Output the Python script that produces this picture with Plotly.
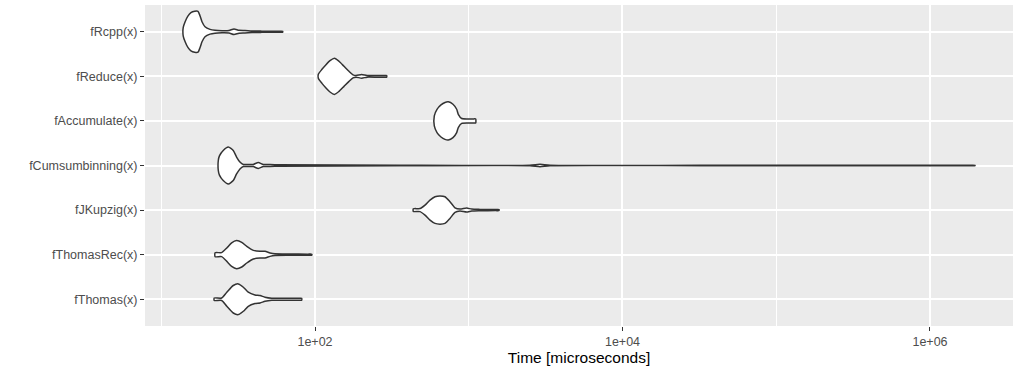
import plotly.graph_objects as go

# Category order: bottom (1) to top (7)
categories = ["fThomas(x)", "fThomasRec(x)", "fJKupzig(x)", "fCumsumbinning(x)",
              "fAccumulate(x)", "fReduce(x)", "fRcpp(x)"]

# Violin outlines: time [microseconds] and relative half-width
rcpp_t = [13.9, 14.3, 14.9, 15.6, 16.5, 17.34, 17.86, 18.41, 19.26, 20.76, 22.37, 24.85,
          27.59, 29.73, 32.04, 35.05, 38.93, 45.21, 58.0, 61.65]
rcpp_w = [0.22, 0.50, 0.78, 0.95, 1.02, 1.02, 0.80, 0.50, 0.25, 0.12, 0.07, 0.05,
          0.06, 0.14, 0.07, 0.06, 0.04, 0.03, 0.02, 0.02]

reduce_t = [105.1, 111.0, 117.9, 125.2, 133.9, 143.2, 154.4, 166.4, 176.7, 184.8, 201.3,
            217.9, 256.9, 285.0, 292.6]
reduce_w = [0.10, 0.35, 0.58, 0.78, 0.90, 0.75, 0.50, 0.25, 0.075, 0.04, 0.09,
            0.04, 0.045, 0.04, 0.04]

accumulate_t = [597, 621.7, 659.9, 700.6, 736.2, 789.8, 834.9, 855.1, 899.9, 988.8, 1080, 1109.7]
accumulate_w = [0.25, 0.58, 0.80, 0.92, 0.95, 0.83, 0.58, 0.33, 0.12, 0.10, 0.10, 0.10]

cumsum_t = [23.5, 23.9, 25.3, 27.3, 29.4, 30.9, 32.5, 34.2, 36.7, 39.7, 42.8, 46.1, 51.0,
            57.4, 357, 2502, 2907, 3378, 31918, 1000000, 1800000, 1962000]
cumsum_w = [0.25, 0.48, 0.75, 0.92, 0.75, 0.42, 0.17, 0.05, 0.05, 0.055, 0.15, 0.05, 0.05,
            0.04, 0.012, 0.012, 0.06, 0.012, 0.01, 0.01, 0.01, 0.01]

jkupzig_t = [436, 481.9, 519.4, 559.8, 603.4, 650.2, 700.6, 755.1, 813.7, 877.3, 969.7,
             1045, 1184, 1500, 1573]
jkupzig_w = [0.065, 0.075, 0.25, 0.50, 0.665, 0.70, 0.665, 0.415, 0.115, 0.05, 0.10,
             0.05, 0.035, 0.025, 0.025]

thomasrec_t = [22.4, 24.7, 26.7, 28.7, 30.9, 33.4, 36.0, 39.7, 43.9, 47.3, 51.0, 54.9,
               68.8, 90.0, 95.2]
thomasrec_w = [0.10, 0.10, 0.335, 0.585, 0.70, 0.615, 0.415, 0.215, 0.165, 0.165, 0.085,
               0.04, 0.03, 0.025, 0.025]

thomas_t = [22.1, 24.7, 26.7, 29.4, 31.7, 34.2, 36.8, 40.7, 43.9, 47.3, 52.3, 63.8, 78.0, 81.9]
thomas_w = [0.06, 0.06, 0.35, 0.685, 0.765, 0.60, 0.35, 0.215, 0.185, 0.10, 0.05, 0.045,
            0.045, 0.045]

profiles = [
    (thomas_t, thomas_w),
    (thomasrec_t, thomasrec_w),
    (jkupzig_t, jkupzig_w),
    (cumsum_t, cumsum_w),
    (accumulate_t, accumulate_w),
    (reduce_t, reduce_w),
    (rcpp_t, rcpp_w),
]

x_tickvals = [1e2, 1e4, 1e6]
x_ticktext = ["1e+02", "1e+04", "1e+06"]
x_minorvals = [1e1, 1e3, 1e5]

MAXHALF = 0.45

fig = go.Figure()
for i, (t, w) in enumerate(profiles):
    pos = i + 1
    xs = list(t) + list(t[::-1]) + [t[0]]
    ys = [pos + MAXHALF * v for v in w] + [pos - MAXHALF * v for v in w[::-1]] + [pos + MAXHALF * w[0]]
    fig.add_trace(go.Scatter(
        x=xs, y=ys, mode="lines", fill="toself", fillcolor="white",
        line=dict(color="#333333", width=1.5, shape="spline", smoothing=0.6),
        hoverinfo="skip", showlegend=False,
    ))

font_family = "Liberation Sans, Arial, sans-serif"
fig.update_layout(
    width=1018, height=366,
    margin=dict(l=145, r=5, t=5, b=40),
    paper_bgcolor="white", plot_bgcolor="#EBEBEB",
    font=dict(family=font_family, color="#4D4D4D", size=12.5),
    showlegend=False,
)
fig.update_xaxes(
    type="log", range=[0.8943, 6.540], automargin=False,
    tickvals=x_tickvals, ticktext=x_ticktext,
    showgrid=True, gridcolor="white", gridwidth=1.5,
    minor=dict(tickvals=x_minorvals, showgrid=True, gridcolor="white", gridwidth=0.7, ticks=""),
    ticks="outside", ticklen=4, tickcolor="#333333", tickwidth=1,
    tickfont=dict(size=12.5, color="#4D4D4D"),
    zeroline=False, showline=False,
    title=dict(text="Time [microseconds]", font=dict(size=15.5, color="black"), standoff=0),
)
fig.update_yaxes(
    range=[0.4, 7.6], automargin=False,
    tickvals=list(range(1, 8)), ticktext=categories,
    showgrid=True, gridcolor="white", gridwidth=1.5,
    ticks="outside", ticklen=4, tickcolor="#333333", tickwidth=1,
    tickfont=dict(size=12.5, color="#4D4D4D"),
    zeroline=False, showline=False,
)

fig.write_html("out.html", config={"displayModeBar": False},
               post_script="document.body.style.margin='0';document.body.style.overflow='hidden';")
